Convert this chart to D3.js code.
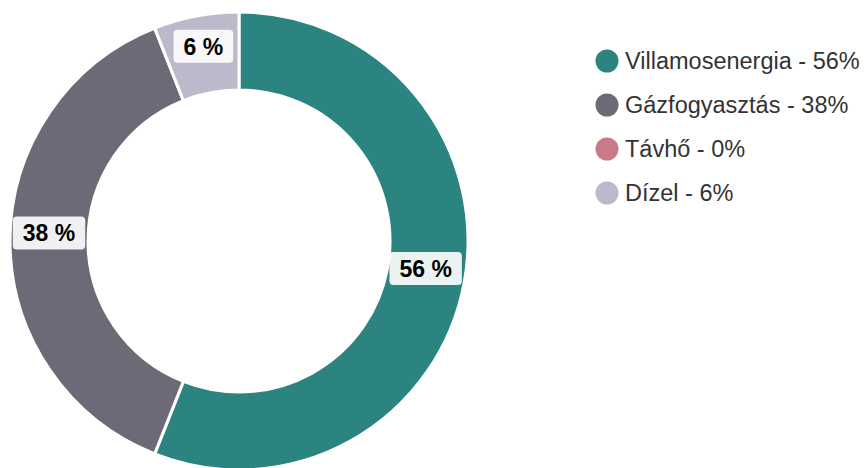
<!DOCTYPE html>
<html>
<head>
<meta charset="utf-8">
<script src="https://cdn.jsdelivr.net/npm/d3@7"></script>
<style>
  body { margin: 0; background: #fff; }
  svg { display: block; font-family: "Liberation Sans", Arial, sans-serif; }
</style>
</head>
<body>
<script>
// the data
var categories = ["Villamosenergia", "Gázfogyasztás", "Távhő", "Dízel"];
var values = [56, 38, 0, 6];
var colors = ["#2b847f", "#6b6a76", "#c97988", "#bbbacd"];

var width = 864,
    height = 468,
    cx = 239, cy = 241,
    outerR = 229, innerR = 151;

var svg = d3.select("body").append("svg")
    .attr("width", width)
    .attr("height", height);

var data = categories.map(function(c, i) { return {name: c, value: values[i], color: colors[i]}; });

var pie = d3.pie()
    .sort(null)
    .value(function(d) { return d.value; });

var arc = d3.arc()
    .innerRadius(innerR)
    .outerRadius(outerR);

var g = svg.append("g")
    .attr("transform", "translate(" + cx + "," + cy + ")");

var arcs = pie(data);

g.selectAll("path")
    .data(arcs)
    .enter()
    .append("path")
    .attr("d", arc)
    .style("fill", function(d) { return d.data.color; })
    .style("stroke", "#fff")
    .style("stroke-width", 3);

// labels in white boxes
var label = g.selectAll(".lbl")
    .data(arcs.filter(function(d) { return d.data.value > 0; }))
    .enter()
    .append("g")
    .attr("class", "lbl")
    .attr("transform", function(d) {
        var c = arc.centroid(d);
        return "translate(" + c[0] + "," + (c[1] - 8) + ")";
    });

label.each(function(d) {
    var el = d3.select(this);
    var t = el.append("text")
        .attr("text-anchor", "middle")
        .attr("dy", "0.36em")
        .style("font-size", "23px")
        .style("font-weight", "bold")
        .style("fill", "#000")
        .text(d.data.value + " %");
    var bb = t.node().getBBox();
    el.insert("rect", "text")
        .attr("x", bb.x - 10)
        .attr("y", -16.5)
        .attr("width", bb.width + 20)
        .attr("height", 33)
        .attr("rx", 4)
        .style("fill", "#fff")
        .style("fill-opacity", 0.9);
});

// legend
var legend = svg.append("g")
    .selectAll("g")
    .data(data)
    .enter()
    .append("g")
    .attr("transform", function(d, i) { return "translate(607," + (61 + i * 44) + ")"; });

legend.append("circle")
    .attr("r", 11.5)
    .style("fill", function(d) { return d.color; });

legend.append("text")
    .attr("x", 18)
    .attr("dy", "0.36em")
    .style("font-size", "23.5px")
    .style("fill", "#333")
    .text(function(d) { return d.name + " - " + d.value + "%"; });
</script>
</body>
</html>
